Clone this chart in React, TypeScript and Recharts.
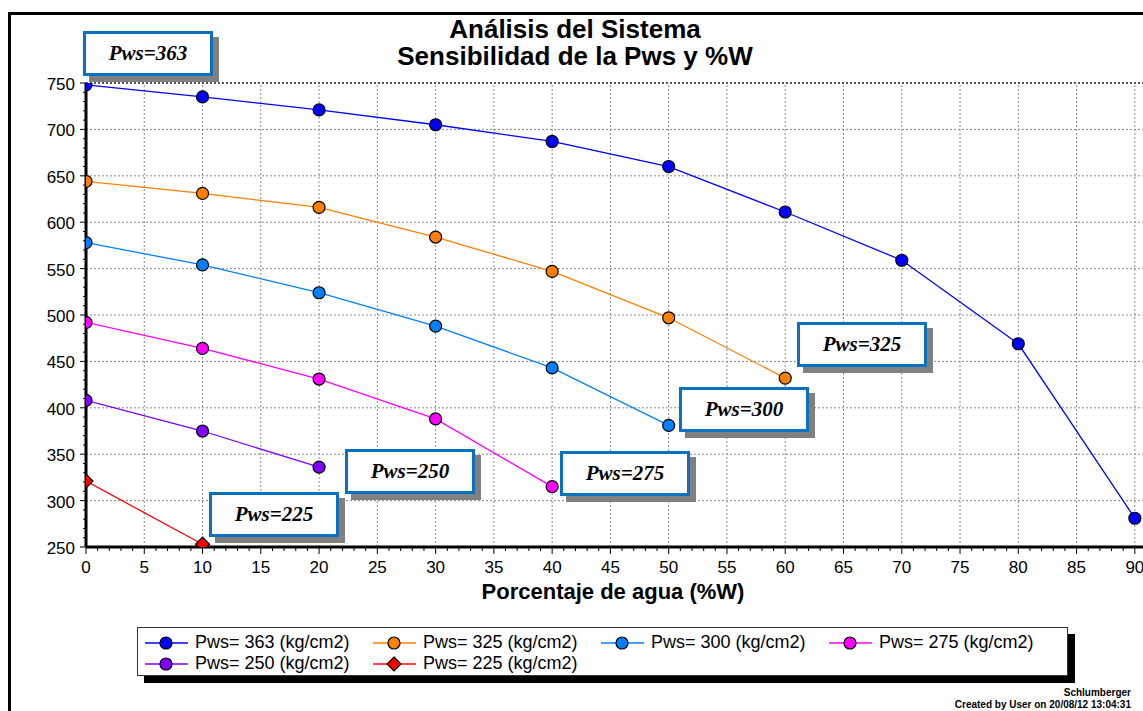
import { Line, LineChart, ReferenceLine, XAxis, YAxis } from "recharts";

// water cut (%W) at each computed point
const waterCut = [0, 10, 20, 30, 40, 50, 60, 70, 80, 90];

// pressure values per static reservoir pressure (Pws)
const pws363 = [748, 735, 721, 705, 687, 660, 611, 559, 469, 281];
const pws325 = [644, 631, 616, 584, 547, 497, 432];
const pws300 = [578, 554, 524, 488, 443, 381];
const pws275 = [492, 464, 431, 388, 315];
const pws250 = [408, 375, 336];
const pws225 = [321, 253];

const seriesNames = [
  "Pws= 363 (kg/cm2)",
  "Pws= 325 (kg/cm2)",
  "Pws= 300 (kg/cm2)",
  "Pws= 275 (kg/cm2)",
  "Pws= 250 (kg/cm2)",
  "Pws= 225 (kg/cm2)",
];

const xTickLabels = [0, 5, 10, 15, 20, 25, 30, 35, 40, 45, 50, 55, 60, 65, 70, 75, 80, 85, 90];
const yTickLabels = [250, 300, 350, 400, 450, 500, 550, 600, 650, 700, 750];

const boxLabels = ["Pws=363", "Pws=325", "Pws=300", "Pws=275", "Pws=250", "Pws=225"];

const SANS = "'Liberation Sans', Arial, sans-serif";
const SERIF = "'Liberation Serif', 'Times New Roman', serif";

const toPoints = (vals: number[]) => vals.map((y, i) => ({ x: waterCut[i], y }));

const series = [
  { name: seriesNames[0], data: toPoints(pws363), color: "#0000ff", diamond: false },
  { name: seriesNames[1], data: toPoints(pws325), color: "#ff8000", diamond: false },
  { name: seriesNames[2], data: toPoints(pws300), color: "#0080ff", diamond: false },
  { name: seriesNames[3], data: toPoints(pws275), color: "#ff00ff", diamond: false },
  { name: seriesNames[4], data: toPoints(pws250), color: "#8000ff", diamond: false },
  { name: seriesNames[5], data: toPoints(pws225), color: "#ff0000", diamond: true },
];

// minor tick every 1 %W and every 10 kg/cm2
const xMinor = Array.from({ length: 91 }, (_, i) => i);
const yMinor = Array.from({ length: 51 }, (_, i) => 250 + i * 10);

// box placement (px) for the Pws call-outs, same order as boxLabels
const boxPos = [
  { left: 83, top: 31 },
  { left: 797, top: 322 },
  { left: 679, top: 387 },
  { left: 560, top: 451 },
  { left: 345, top: 449 },
  { left: 209, top: 492 },
];

function XTick(props: any) {
  const { x, y, payload } = props;
  const v = payload.value;
  const major = v % 5 === 0;
  return (
    <g>
      <line x1={x} x2={x} y1={y} y2={y + (major ? 7 : 4)} stroke="#000" strokeWidth={1} />
      {major && (
        <text x={x} y={y + 26} textAnchor="middle" fontSize={17} fontFamily={SANS} fill="#000">
          {v}
        </text>
      )}
    </g>
  );
}

function YTick(props: any) {
  const { x, y, payload } = props;
  const v = payload.value;
  const major = v % 50 === 0;
  return (
    <g>
      <line x1={x - (major ? 6 : 3)} x2={x} y1={y} y2={y} stroke="#000" strokeWidth={1} />
      {major && (
        <text x={x - 11} y={y + 7} textAnchor="end" fontSize={17} fontFamily={SANS} fill="#000">
          {v}
        </text>
      )}
    </g>
  );
}

function Marker({ color, diamond, cx, cy }: { color: string; diamond: boolean; cx: number; cy: number }) {
  if (diamond) {
    return (
      <path
        d={`M${cx},${cy - 7}L${cx + 7},${cy}L${cx},${cy + 7}L${cx - 7},${cy}Z`}
        fill={color}
        stroke="#000"
        strokeWidth={1.2}
      />
    );
  }
  return <circle cx={cx} cy={cy} r={6} fill={color} stroke="#000" strokeWidth={1.2} />;
}

function LegendBox() {
  return (
    <div
      style={{
        position: "absolute",
        left: 137,
        top: 627,
        width: 931,
        height: 49,
        boxSizing: "border-box",
        border: "1px solid #333",
        background: "#fff",
        boxShadow: "7px 7px 0 #000",
      }}
    >
      {series.map((s, i) => (
        <div
          key={s.name}
          style={{
            position: "absolute",
            left: 7 + (i % 4) * 228,
            top: i < 4 ? 4 : 25,
            height: 21,
            display: "flex",
            alignItems: "center",
            whiteSpace: "nowrap",
          }}
        >
          <svg width={43} height={16}>
            <line x1={0} x2={43} y1={8} y2={8} stroke={s.color} strokeWidth={1.5} />
            <Marker color={s.color} diamond={s.diamond} cx={21} cy={8} />
          </svg>
          <span style={{ marginLeft: 7, fontFamily: SANS, fontSize: 18, color: "#000" }}>{s.name}</span>
        </div>
      ))}
    </div>
  );
}

export default function App() {
  return (
    <div
      style={{
        position: "fixed",
        left: 0,
        top: 0,
        width: 1143,
        height: 711,
        overflow: "hidden",
        background: "#fff",
      }}
    >
      <div
        style={{
          position: "absolute",
          left: 8,
          top: 12,
          width: 1200,
          height: 800,
          borderLeft: "3px solid #000",
          borderTop: "3px solid #000",
        }}
      />
      <div
        style={{
          position: "absolute",
          left: 0,
          top: 16,
          width: 1150,
          textAlign: "center",
          fontFamily: SANS,
          fontWeight: "bold",
          fontSize: 26,
          lineHeight: "27px",
          color: "#000",
        }}
      >
        Análisis del Sistema
        <br />
        Sensibilidad de la Pws y %W
      </div>

      <LineChart
        width={1143}
        height={711}
        margin={{ top: 83, right: 0, bottom: 134, left: 0 }}
        style={{ position: "absolute", left: 0, top: 0 }}
      >
        {xTickLabels
          .filter((v) => v > 0)
          .map((v) => (
            <ReferenceLine key={"gx" + v} x={v} stroke="#8a8a8a" strokeDasharray="2 2" strokeWidth={1} />
          ))}
        {yTickLabels
          .filter((v) => v > 250)
          .map((v) => (
            <ReferenceLine
              key={"gy" + v}
              y={v}
              stroke={v === 750 ? "#555" : "#8a8a8a"}
              strokeDasharray="2 2"
              strokeWidth={v === 750 ? 2 : 1}
            />
          ))}
        <XAxis
          dataKey="x"
          type="number"
          domain={[0, 90.7]}
          ticks={xMinor}
          interval={0}
          allowDataOverflow
          height={30}
          tickSize={0}
          tickMargin={0}
          tickLine={false}
          axisLine={{ stroke: "#000", strokeWidth: 3 }}
          tick={(p: any) => <XTick {...p} />}
        />
        <YAxis
          type="number"
          domain={[250, 750]}
          ticks={yMinor}
          interval={0}
          allowDataOverflow
          width={86}
          tickSize={0}
          tickMargin={0}
          tickLine={false}
          axisLine={{ stroke: "#000", strokeWidth: 3 }}
          tick={(p: any) => <YTick {...p} />}
        />
        {series.map((s) => (
          <Line
            key={s.name}
            name={s.name}
            data={s.data}
            dataKey="y"
            type="linear"
            stroke={s.color}
            strokeWidth={1.3}
            isAnimationActive={false}
            activeDot={false}
            dot={(p: any) => (
              <Marker key={s.name + p.index} color={s.color} diamond={s.diamond} cx={p.cx} cy={p.cy} />
            )}
          />
        ))}
      </LineChart>

      <div
        style={{
          position: "absolute",
          left: 413,
          top: 581,
          width: 400,
          textAlign: "center",
          fontFamily: SANS,
          fontWeight: "bold",
          fontSize: 22,
          lineHeight: "22px",
          color: "#000",
        }}
      >
        Porcentaje de agua (%W)
      </div>

      <LegendBox />

      {boxLabels.map((label, i) => (
        <div
          key={label}
          style={{
            position: "absolute",
            left: boxPos[i].left,
            top: boxPos[i].top,
            width: 130,
            height: 45,
            boxSizing: "border-box",
            border: "3px solid #0a70c0",
            background: "#fff",
            boxShadow: "6px 6px 0 #808080",
            display: "flex",
            alignItems: "center",
            justifyContent: "center",
            fontFamily: SERIF,
            fontWeight: "bold",
            fontStyle: "italic",
            fontSize: 21,
            color: "#000",
          }}
        >
          {label}
        </div>
      ))}

      <div
        style={{
          position: "absolute",
          right: 12,
          top: 687,
          textAlign: "right",
          fontFamily: SANS,
          fontWeight: "bold",
          fontSize: 10,
          lineHeight: "12px",
          color: "#000",
        }}
      >
        Schlumberger
        <br />
        Created by User on 20/08/12 13:04:31
      </div>
    </div>
  );
}
